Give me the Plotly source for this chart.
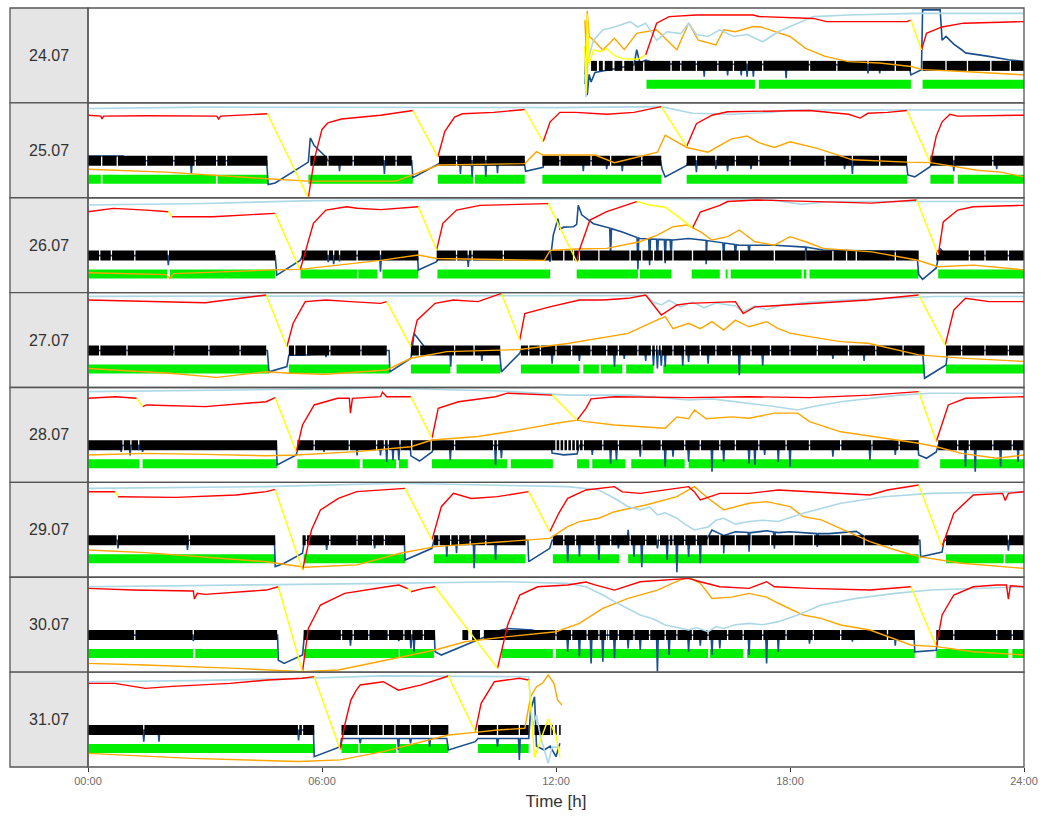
import numpy as np
import plotly.graph_objects as go
from plotly.subplots import make_subplots

# ---------------- data (hours, panel value 0..100) ----------------
days = ["24.07", "25.07", "26.07", "27.07", "28.07", "29.07", "30.07", "31.07"]
tick_vals = [0, 6, 12, 18, 24]
tick_text = ["00:00", "06:00", "12:00", "18:00", "24:00"]
BAR_LEVEL = 39
GREEN_LEVEL = 19.5

# --- 24.07 ---
temp_24 = [(12.74,60),(12.77,10),(12.8,94),(12.85,40),(12.96,56),(13.13,54),(13.3,57),(13.5,50),(13.7,46.6),(14.1,46),(14.3,50.5),(14.58,84),(14.9,90.9),(15.6,92.6),(17.06,92.6),(17.2,91),(18.6,89),(18.94,85.6),(21.0,85.6),(21.1,87.3),(21.37,55.8),(21.5,73.3),(21.6,75),(21.9,80),(22.45,84),(24,85.6)]
cool_24 = [(12.74,14.3),(21.1,21.37)]
lblue_24 = [(12.74,30),(12.77,6),(12.82,45),(12.96,66),(13.2,76.8),(13.5,80),(13.9,85.6),(14.1,80),(14.3,84),(14.58,66),(14.85,75),(15.2,73),(15.4,84),(15.6,72),(15.9,70),(16.2,77),(16.55,70),(16.9,72),(17.3,64.4),(17.7,75),(18.2,84),(18.6,90.9),(19.5,92.6),(21.2,94.3),(24,94.3)]
orange_24 = [(12.74,87),(12.77,60),(12.8,97),(12.85,70),(12.96,66),(13.2,55.8),(13.5,68),(13.75,56),(14.07,73.3),(14.3,75),(14.58,77),(14.85,66),(15.1,56),(15.4,84),(15.65,66),(16.1,61),(16.3,77),(16.6,75),(17.06,80.5),(17.25,80),(17.6,75),(18.0,70),(18.4,57.5),(18.9,49),(19.5,43.5),(20.3,42),(21.1,38.3),(21.4,35),(22.45,33),(24,29.5)]
blue_24 = [(12.74,20),(12.77,60),(12.8,8),(12.85,30),(12.9,22),(13.0,32),(13.5,36),(14.0,40),(14.07,56),(14.15,42),(14.3,45),(14.6,41),(21.05,40),(21.1,29.5),(21.37,35),(21.4,98),(21.85,98),(21.88,77),(21.9,66),(22.0,70),(22.2,62),(22.4,56),(22.5,52.7),(23.1,49),(23.6,45.5),(24,43.5)]
blue_dips_24 = [(15.8,27.6),(16.4,29),(16.75,29),(16.9,27.6),(17.06,27.6),(17.9,26),(20.0,31),(20.3,31)]
black_24 = [(12.9,13.05),(13.1,13.2),(13.25,13.45),(13.5,13.7),(13.75,21.1),(21.4,24.0)]
black_gaps_24 = [14.0,14.25,14.95,15.2,15.6,16.15,16.55,16.9,17.3,18.5,19.2,20.0,20.7,22.0,22.55,23.15,23.65]
green_24 = [(14.32,17.1),(17.2,21.1),(21.4,24.0)]

# --- 25.07 ---
temp_25 = [(0,87),(0.33,86),(0.36,83),(0.4,86),(1.5,86.5),(3.3,86),(3.35,83),(3.4,86),(4.6,88.5),(5.65,0),(5.8,40),(6.0,72),(6.15,79),(6.5,83),(7.5,87),(8.33,92),(8.97,43),(9.15,70),(9.4,85),(9.6,88.5),(10.4,90),(11.2,93),(11.67,59),(11.85,80),(12.1,90),(12.5,90),(13.3,88),(14.0,90),(14.7,96),(15.35,54),(15.6,78),(16.0,87),(16.4,90.7),(18.5,92),(19.5,88),(19.8,84),(20.0,89),(20.5,90),(21.0,92),(21.6,36.6),(21.75,65),(21.9,80),(22.1,88),(22.3,86),(24,87)]
cool_25 = [(4.6,5.65),(8.33,8.97),(11.2,11.67),(14.7,15.35),(21.0,21.6)]
lblue_25 = [(0,94),(3,95.5),(12,95),(14.7,96),(15.5,89),(16.5,88),(17.5,90),(18,92.5),(24,92.5)]
orange_25 = [(0,30),(2,27),(4.6,20),(5.65,17.5),(7.9,17.5),(9.0,34.5),(11.2,36),(11.5,48.6),(11.67,45),(13.0,45),(13.5,37),(14.6,48),(14.8,66),(15.35,53),(15.9,48),(16.5,62),(16.9,65),(17.2,58),(17.6,53),(18.0,59),(18.7,52),(19.6,40),(21.0,37.5),(21.6,37),(22.8,29),(23.4,27),(24,22)]
blue_25 = [(0,44),(0.9,44),(1.0,39),(4.58,39),(4.62,14),(4.8,15.5),(5.3,28),(5.65,37.6),(5.7,63),(5.8,55),(6.1,43),(6.15,39),(8.3,39),(8.33,21),(9.0,36),(9.05,39),(11.18,39),(11.22,28),(11.67,32),(11.7,39),(14.68,39),(14.72,30),(14.8,22),(15.35,34),(15.4,39),(20.98,39),(21.02,24),(21.2,22),(21.6,33),(21.65,39),(24,39)]
blue_dips_25 = [(2.65,25),(6.45,28),(7.6,25),(9.55,25),(9.85,22),(10.2,22),(10.5,26),(12.7,28),(13.3,30),(13.7,28),(15.6,27),(16.1,30),(16.4,28),(17.0,30),(19.4,30),(19.6,25),(22.2,28),(23.3,30)]
black_25 = [(0,4.6),(5.7,8.3),(9.0,11.2),(11.65,14.7),(15.35,21.0),(21.6,24)]
black_gaps_25 = [0.35,0.75,1.5,2.2,2.75,3.3,3.55,6.15,6.8,7.6,7.9,9.45,9.85,10.2,12.1,12.9,13.4,14.2,15.6,16.1,16.6,17.2,18.0,18.9,19.6,20.3,22.2,23.2]
green_25 = [(0,0.33),(0.37,3.28),(3.32,4.6),(5.65,8.33),(8.97,9.88),(9.92,11.2),(11.65,14.7),(15.35,21.0),(21.6,22.2),(22.3,24)]

# --- 26.07 ---
temp_26 = [(0,85.3),(0.65,88.8),(1.5,87),(2.06,85.3),(2.15,80),(3.2,80),(4.8,83.5),(5.44,23.8),(5.78,73),(6.1,87),(6.63,90.5),(6.9,89),(7.5,87.5),(8.47,90.5),(8.94,45),(9.1,73),(9.45,87),(10.05,92),(11.8,93.8),(12.53,32.6),(12.6,45),(12.87,76.5),(13.3,85.3),(14.07,96),(14.4,92.3),(14.8,90),(15.2,78),(15.5,68),(15.7,85),(16.2,92),(16.4,96),(17.15,97.6),(18.4,96),(20.1,94.3),(21.25,97.6),(21.8,39.6),(21.93,74.6),(22.3,87),(22.7,90.5),(24,92)]
cool_26 = [(2.06,2.15),(4.8,5.44),(8.47,8.94),(11.8,12.53),(14.07,15.5),(21.25,21.8)]
lblue_26 = [(0,92.3),(3,94),(5.8,97),(12,98.8),(17.5,98),(18.3,93),(19,96),(24,96)]
orange_26 = [(0,21),(2.0,19),(2.1,15),(2.2,20),(4.8,24),(5.44,24.5),(7.5,34),(8.47,39.6),(8.94,36),(11.7,34),(11.85,44.5),(12.5,46),(13.3,46.6),(14.15,53.6),(14.6,60.7),(15.0,69.5),(15.35,71.3),(15.7,64.2),(16.0,55.5),(16.4,59),(16.7,66),(17.1,53.6),(17.6,50),(18.0,59),(18.4,53.6),(18.85,46.6),(20.1,43),(21.25,34.4),(21.8,27.3),(22.7,29),(24,24)]
blue_26 = [(0,39),(4.8,39),(4.84,18.4),(5.44,34),(5.5,39),(8.45,39),(8.47,23.8),(8.94,32.6),(9.0,39),(11.8,39),(11.85,32.6),(11.93,60.7),(12.05,78),(12.1,67),(12.2,69),(12.45,69.5),(12.53,72),(12.57,92),(12.66,82),(12.96,72.6),(13.3,69),(13.7,64),(14.15,57),(15.0,55.5),(15.4,57),(15.85,55),(16.7,50),(17.6,50),(18.4,48),(18.85,45),(21.25,43),(21.3,19),(21.4,14),(21.75,26),(21.85,46.6),(22.0,39),(24,39)]
blue_dips_26 = [(2.06,29),(6.16,32),(6.3,30),(6.45,33),(7.5,22),(8.2,36),(9.75,27),(13.4,38),(14.1,24.5),(14.4,29),(14.6,34),(14.8,31),(14.95,37),(15.85,30),(16.3,35),(16.6,37),(16.95,40),(18.4,34),(22.8,37),(23.4,37)]
black_26 = [(0,4.8),(5.48,8.47),(8.94,21.3),(21.75,24)]
black_gaps_26 = [0.3,0.6,1.2,2.06,6.16,6.3,6.45,6.9,7.5,9.45,9.75,9.85,10.65,11.87,12.2,12.45,12.6,13.1,13.9,14.2,14.5,14.75,15.0,15.5,16.25,16.7,17.6,18.4,19.1,19.45,19.7,20.7,22.6,23.0,23.6]
green_26 = [(0,2.03),(2.1,4.8),(5.45,6.9),(6.93,7.42),(7.55,8.47),(8.96,11.85),(12.53,14.1),(14.15,14.96),(15.48,16.2),(16.35,16.4),(16.48,18.3),(18.35,18.42),(18.5,21.29),(21.8,24)]

# --- 27.07 ---
temp_27 = [(0,92.2),(1.47,90.5),(3.0,89.4),(4.57,97.5),(5.1,43),(5.26,67.7),(5.57,90.5),(6.1,92.2),(6.73,90.5),(7.5,88.7),(7.66,90.5),(8.28,43),(8.44,71),(8.9,88.7),(9.37,92.2),(10.0,90.5),(10.6,99.3),(11.07,50),(11.2,78),(11.84,85),(12.6,92.2),(13.2,92.2),(13.85,94),(14.3,97.5),(14.7,76.4),(15.1,87),(15.4,88.7),(16.6,90.5),(16.8,78),(17.1,85),(18.5,88.7),(20.0,92.2),(21.3,97.5),(21.98,44.7),(22.2,81.7),(22.5,94),(23.1,90.5),(24,90.5)]
cool_27 = [(4.57,5.1),(7.66,8.28),(10.6,11.07),(21.3,21.98)]
lblue_27 = [(0,96),(14.3,97),(14.5,90),(14.7,87),(14.9,92),(15.2,85),(15.5,90),(15.8,84),(16.1,89),(16.6,86),(16.8,80),(17.1,86),(17.4,82),(17.8,87),(18.5,90),(19.3,92),(21.7,96),(24,96)]
orange_27 = [(0,20),(1.5,17),(2.1,15),(3.3,10.7),(4.57,16.6),(5.2,15),(6.1,14),(7.66,18.5),(8.28,30.8),(9.2,37.8),(10.6,39.6),(11.07,40),(12.3,46.4),(13.1,51.9),(13.85,57),(14.5,69.4),(14.8,74.6),(15.0,62),(15.4,67.6),(15.7,62),(16.0,69.4),(16.3,60.6),(16.6,71),(16.95,64),(17.4,69.4),(17.7,62),(18.0,57.3),(18.5,53.6),(19.3,48.3),(20.0,46.6),(21.3,34.4),(22.4,31),(24,27.5)]
blue_27 = [(0,39),(4.6,39),(4.64,16.5),(5.1,22),(5.15,34),(5.5,34),(6.1,36),(6.2,39),(7.72,39),(7.74,16.5),(8.28,30.8),(8.36,57),(8.6,44.7),(8.7,39),(10.55,39),(10.6,16.5),(11.07,36),(11.1,39),(21.4,39),(21.45,9.7),(22.0,23.7),(22.05,39),(24,39)]
blue_dips_27 = [(2.17,34),(6.1,32),(9.3,22),(10.1,28),(11.9,25),(12.6,28),(13.5,22),(13.75,30),(14.3,28),(14.5,23),(14.6,20),(14.7,23),(14.8,22),(15.25,23),(15.4,27),(15.9,25),(16.7,13),(17.3,23),(19.1,30),(19.9,28)]
black_27 = [(0,4.57),(5.15,7.66),(8.28,10.57),(11.1,21.45),(22.0,24)]
black_gaps_27 = [0.3,1.0,2.2,3.1,3.9,5.3,5.6,6.2,7.0,8.5,9.4,9.9,11.3,11.6,12.0,12.4,12.9,13.3,13.6,14.1,14.45,14.55,14.62,14.7,15.0,15.3,15.7,16.1,16.5,17.0,17.5,18.0,18.7,19.5,20.2,20.9,22.4,23.0,23.6]
green_27 = [(0,4.64),(5.15,7.74),(8.28,9.29),(9.45,10.57),(11.1,12.6),(12.7,13.1),(13.15,13.7),(13.8,14.5),(14.75,21.45),(22.0,24)]

# --- 28.07 ---
temp_28 = [(0,88.6),(0.7,90.3),(1.25,88.6),(1.4,79.8),(1.5,81.6),(3.0,79.8),(4.57,85),(4.8,89.3),(5.34,32.4),(5.5,60.5),(5.8,81.6),(6.4,88.6),(6.7,88.6),(6.73,73),(6.78,88.6),(7.5,90.3),(7.55,95),(7.66,90.3),(8.28,90.3),(8.82,46.5),(8.98,78),(9.5,85),(10.45,90.3),(10.75,94),(11.9,92),(12.54,65.6),(12.77,78),(12.9,88),(13.5,90.3),(15.4,89.3),(16.95,90.3),(18.5,89.3),(20.05,92),(21.3,95.6),(21.75,43),(22.06,81.6),(22.5,88.6),(24,90.3)]
cool_28 = [(1.25,1.4),(4.8,5.34),(8.28,8.82),(11.9,12.54),(21.3,21.75)]
lblue_28 = [(0,95.6),(7.66,99.2),(10.6,96.3),(12.3,92),(13.9,92),(15.4,86.8),(16.0,88),(16.95,83.4),(17.6,80),(18.2,76.3),(18.6,80),(19.3,85),(20.8,92),(21.6,94),(24,94)]
orange_28 = [(0,28.8),(1.47,30.6),(3.0,29.5),(4.57,28.1),(5.34,28.8),(6.9,32.4),(8.28,37.6),(8.82,44.7),(10.0,48.3),(11.07,55.3),(12.0,62.3),(12.54,65.6),(12.77,64),(13.5,60.5),(14.8,57),(15.1,69),(15.4,67),(15.55,76.3),(15.85,67),(16.5,69),(16.95,67.6),(17.6,73),(18.2,73),(18.5,64.1),(19.3,53.3),(20.5,46.5),(21.3,41.2),(21.75,37.6),(22.4,30.6),(23.3,25.4),(24,28.8)]
blue_28 = [(0,39),(4.83,39),(4.85,18.3),(5.34,29),(5.4,39),(8.26,39),(8.28,28),(8.5,22.5),(8.82,32),(8.9,39),(11.88,39),(11.9,31),(12.2,29),(12.54,30),(12.6,39),(21.28,39),(21.3,29),(21.5,25.4),(21.75,32),(21.8,39),(24,39)]
blue_dips_28 = [(0.85,32),(1.08,28.5),(1.3,33.7),(1.4,32),(6.05,32),(6.9,28.5),(7.5,28.5),(7.66,21.8),(7.82,23.5),(7.97,23.5),(9.29,23.5),(10.45,18.3),(10.6,25.4),(12.93,29),(13.4,20),(13.55,23.5),(14.16,27),(14.8,16.6),(15.0,27),(15.4,21.8),(16.0,11.3),(16.3,21.8),(16.95,20),(17.1,18.3),(17.35,29),(17.7,21.8),(18.0,16.6),(19.1,27),(20.05,23.5),(20.7,29),(22.5,16.6),(22.75,11.3),(23.4,16.6),(23.85,21.8)]
black_28 = [(0,4.85),(5.37,21.3),(21.8,24)]
black_gaps_28 = [0.9,1.1,1.3,5.8,6.7,7.4,7.6,7.7,8.0,8.3,8.8,9.4,10.4,10.5,12.0,12.1,12.2,12.3,12.4,12.5,12.6,12.7,13.2,13.6,14.2,14.7,15.3,15.7,16.2,16.6,17.2,17.9,18.5,19.3,20.1,20.8,22.3,22.6,23.2,23.7]
green_28 = [(0,1.32),(1.4,4.85),(5.37,6.97),(7.04,7.9),(7.97,8.2),(8.82,10.75),(10.84,11.92),(12.54,12.85),(12.93,13.78),(13.93,15.3),(15.4,21.3),(21.85,24)]

# --- 29.07 ---
temp_29 = [(0,90.2),(0.7,90.2),(0.77,84.9),(0.85,84.9),(2.25,84.2),(3.8,86.7),(4.57,90.2),(4.8,92.6),(5.5,7.6),(5.73,49.8),(5.96,70.9),(6.42,83.2),(6.89,90.2),(8.13,93.7),(8.82,39.3),(9.06,74.4),(9.37,88.4),(9.83,83),(10.5,85),(11.3,90.2),(11.84,48),(12.07,67.4),(12.3,83.2),(12.77,92),(13.5,95.5),(13.7,90),(14.16,88.4),(14.8,92),(15.4,95.5),(15.55,90),(15.7,81.4),(16.2,88.4),(16.95,88.4),(17.7,92),(18.5,90.2),(19.3,88.4),(20.05,86.7),(20.5,92),(21.3,97.2),(21.9,32.3),(22.2,67.4),(22.7,86.7),(23.45,88.4),(23.52,81),(23.6,88.4),(24,90.2)]
cool_29 = [(0.7,0.77),(4.8,5.5),(8.13,8.82),(11.3,11.84),(21.3,21.9)]
lblue_29 = [(0,93.7),(4.57,95.5),(8.0,99),(12.3,95.5),(13.1,92),(13.5,83.2),(13.85,74.4),(14.16,71),(14.4,74),(14.6,65.7),(14.8,68),(15.1,62.2),(15.3,56),(15.55,49.8),(15.9,53),(16.1,60),(16.3,62.2),(16.6,56),(16.95,58.7),(17.3,60),(17.7,58.7),(18.34,67.4),(19.3,78),(20.4,84.9),(21.6,88.4),(24,90.2)]
orange_29 = [(0,28.7),(1.47,25.9),(4.57,16.4),(5.57,10.5),(6.9,13),(8.0,25.3),(8.9,32.3),(10.76,37.6),(11.84,41),(12.3,53.3),(12.6,58.6),(13.1,62.2),(13.5,69.1),(14.3,76.2),(15.1,84.9),(15.4,92),(15.55,95.5),(15.9,83.2),(16.3,71),(16.95,78),(17.4,79.7),(18.0,74.5),(18.34,63.9),(18.8,60.5),(19.4,49.8),(20.05,37.6),(20.7,28.7),(21.3,21.7),(22.4,14.7),(24,9.4)]
blue_29 = [(0,39),(4.78,39),(4.8,11.2),(5.03,14.7),(5.5,25.3),(5.55,39),(8.11,39),(8.13,18.2),(8.82,30.5),(8.87,39),(11.28,39),(11.3,16.4),(11.84,30.5),(11.9,39),(15.85,39),(16.0,49.8),(16.3,44),(16.6,48),(17.0,47),(17.4,49),(17.7,47),(18.0,48),(18.5,46),(19.0,46),(19.4,47),(19.7,48.3),(20.05,39),(21.33,39),(21.35,21.7),(21.9,26.5),(21.95,39),(24,39)]
blue_dips_29 = [(0.77,30.5),(2.55,28.8),(6.12,28.8),(7.35,30.5),(9.2,21.7),(9.45,25.3),(9.9,9.4),(10.45,18.2),(12.3,16.4),(12.6,21.7),(13.1,18.2),(13.6,30.5),(13.85,50),(14.0,21.7),(14.2,10.5),(14.6,30.5),(14.85,18.2),(15.1,5.3),(15.4,21.7),(15.7,14.7),(16.3,25),(16.95,27),(17.6,30),(18.7,32),(20.6,33),(23.6,28)]
black_29 = [(0,4.8),(5.5,8.13),(8.87,11.22),(11.92,21.3),(22.0,24)]
black_gaps_29 = [0.75,2.6,5.6,6.2,6.9,7.3,7.6,9.0,9.3,9.5,9.8,10.2,12.2,12.5,13.0,13.4,13.9,14.3,14.6,14.65,14.9,15.0,15.3,15.6,15.9,16.2,16.6,17.0,17.5,18.1,18.6,19.3,19.9,23.6]
green_29 = [(0,4.8),(5.53,8.13),(8.87,11.22),(11.92,13.62),(13.85,21.3),(22.0,23.48),(23.52,24)]

# --- 30.07 ---
temp_30 = [(0,88.3),(1.16,86.5),(2.7,85.5),(2.73,77),(2.8,83),(3.0,82),(4.57,86.5),(4.88,90),(5.5,0.5),(5.65,46),(5.96,70.7),(6.58,83),(7.66,90),(7.97,91.8),(8.2,88),(8.28,84.7),(8.6,88.3),(8.9,90),(10.5,3.9),(10.76,49.7),(11.07,81.3),(11.53,90),(12.3,91.8),(12.77,95),(13.0,92),(13.5,86.5),(14.16,95.3),(14.8,97),(15.4,98.8),(15.7,95.3),(16.2,90),(16.95,88.3),(17.4,95.3),(17.6,90),(18.5,88.3),(20.05,86.5),(21.1,90),(21.75,26.9),(21.9,60.2),(22.2,81.3),(22.7,90),(23.3,91.8),(23.55,91.8),(23.6,77),(23.65,91),(24,90)]
cool_30 = [(4.88,5.5),(8.2,8.28),(8.9,10.5),(21.1,21.75)]
lblue_30 = [(0,90),(4.57,91.8),(7.66,93.5),(10.76,95.3),(12.3,93.5),(12.77,90),(13.2,81.3),(13.5,74.3),(13.8,68),(14.16,60.2),(14.5,56),(14.8,49.7),(15.1,47),(15.4,44.4),(15.6,47),(15.9,42.6),(16.1,48),(16.3,46),(16.6,50),(16.95,51.4),(17.3,50),(17.7,53.2),(18.2,60.2),(18.8,70.7),(19.7,77.7),(20.7,83),(21.6,86.5),(22.7,88.3),(24,90)]
orange_30 = [(0,9.2),(1.47,7.5),(3.8,4),(5.5,0.5),(6.42,2.2),(7.66,12.7),(8.9,23.3),(9.67,32),(10.76,37.4),(12.0,42.6),(12.6,51.4),(13.2,67.2),(13.85,77.7),(14.6,86.5),(15.17,97),(15.4,100),(15.7,93.5),(16.0,77.7),(16.5,79),(16.95,83),(17.4,79),(17.7,72.6),(18.34,60.2),(18.8,56.7),(19.3,49.7),(20.05,44.4),(21.1,28.6),(21.75,26.9),(22.7,21.5),(24,18)]
blue_30 = [(0,39),(4.86,39),(4.88,12.6),(5.03,9.2),(5.5,18),(5.55,39),(8.88,39),(8.9,21.4),(9.06,18),(10.6,44.4),(10.76,46),(11.4,44.4),(11.84,37.4),(11.9,39),(21.18,39),(21.2,21.4),(21.75,23),(21.8,39),(24,39)]
blue_dips_30 = [(1.3,34.5),(2.7,32.8),(6.73,28),(7.97,32.8),(8.28,25),(8.36,21.4),(12.3,21.4),(12.6,16.4),(12.9,9.2),(13.2,11),(13.5,14.6),(13.85,25),(14.16,23.3),(14.6,0.5),(14.9,18),(15.4,21.4),(15.7,28),(16.0,18),(16.2,25),(16.95,18),(17.4,9.2),(17.7,21.4),(18.5,30),(19.6,32),(20.7,28),(22.4,34.5),(23.5,35)]
black_30 = [(0,4.85),(5.53,8.9),(9.6,9.75),(9.85,10.05),(10.15,21.2),(21.75,24)]
black_gaps_30 = [1.2,2.7,6.5,6.8,7.2,7.7,8.1,8.3,8.6,12.0,12.4,12.8,13.1,13.3,13.35,13.6,14.0,14.4,14.8,15.1,15.5,15.9,16.4,16.8,17.3,17.9,18.6,19.3,20.5,22.2,23.3,23.7]
green_30 = [(0,2.7),(2.75,4.85),(5.53,7.97),(8.0,8.87),(10.6,11.92),(12.0,15.9),(15.95,16.8),(16.9,21.2),(21.75,23.6),(23.7,24)]

# --- 31.07 ---
temp_31 = [(0,88.2),(0.69,88.2),(1.47,82.9),(2.16,85),(3.64,88.2),(4.62,91.7),(5.5,93.5),(5.8,95.2),(6.47,18),(6.59,45.6),(6.74,70.5),(6.88,81),(6.98,86.5),(7.57,89.9),(7.96,81),(8.55,86.5),(9.24,95.9),(9.93,37.3),(10.08,67.1),(10.42,89.9),(11.06,93.5),(11.3,91.7),(11.45,10.2),(11.6,28),(11.8,50.5),(12.0,33),(12.1,10.2)]
cool_31 = [(5.8,6.47),(9.24,9.93),(11.3,12.1)]
lblue_31 = [(0,89.9),(2.65,91),(5.6,93.5),(7.57,96),(11.3,95.2),(11.4,42.7),(11.5,55),(11.6,32.3),(11.8,3.9),(11.9,21),(12.1,21)]
orange_31 = [(0,14.4),(2.65,9.1),(5.4,5.8),(6.47,7.5),(7.57,16.2),(8.55,26.7),(9.24,33.7),(9.93,36.5),(10.5,39),(11.2,40.8),(11.35,74.2),(11.5,84.7),(11.65,88.2),(11.8,96.9),(11.95,88),(12.04,70.7),(12.15,65.4)]
blue_31 = [(0,39),(5.78,39),(5.8,10.9),(6.47,21.4),(6.5,30),(9.2,30),(9.24,17.9),(9.93,26.7),(10.0,30),(11.3,30),(11.35,60),(11.45,74),(11.5,22),(11.7,17.9),(11.85,22),(12.0,10.9),(12.1,25)]
blue_dips_31 = [(1.43,26.7),(1.82,26.7),(5.4,28),(6.98,25),(7.96,17.9),(8.27,25),(8.76,21.4),(10.5,21.4),(11.06,7.4)]
black_31 = [(0,5.8),(6.5,9.24),(10.0,11.3),(11.45,11.85),(11.88,11.92),(11.98,12.02),(12.08,12.12)]
black_gaps_31 = [1.43,5.4,5.5,6.93,7.57,7.87,8.27,8.76,10.5,11.06]
green_31 = [(0,5.8),(6.5,6.93),(6.96,7.9),(7.96,9.24),(10.0,11.3)]

# ---------------- table built from the lists ----------------
table = {
    "24.07": (temp_24, cool_24, lblue_24, orange_24, blue_24, blue_dips_24, black_24, black_gaps_24, green_24),
    "25.07": (temp_25, cool_25, lblue_25, orange_25, blue_25, blue_dips_25, black_25, black_gaps_25, green_25),
    "26.07": (temp_26, cool_26, lblue_26, orange_26, blue_26, blue_dips_26, black_26, black_gaps_26, green_26),
    "27.07": (temp_27, cool_27, lblue_27, orange_27, blue_27, blue_dips_27, black_27, black_gaps_27, green_27),
    "28.07": (temp_28, cool_28, lblue_28, orange_28, blue_28, blue_dips_28, black_28, black_gaps_28, green_28),
    "29.07": (temp_29, cool_29, lblue_29, orange_29, blue_29, blue_dips_29, black_29, black_gaps_29, green_29),
    "30.07": (temp_30, cool_30, lblue_30, orange_30, blue_30, blue_dips_30, black_30, black_gaps_30, green_30),
    "31.07": (temp_31, cool_31, lblue_31, orange_31, blue_31, blue_dips_31, black_31, black_gaps_31, green_31),
}

C_RED = "#FF0000"
C_YEL = "#FFFF00"
C_ORA = "#FFA500"
C_LBL = "#ADD8E6"
C_BLU = "#1B4F8C"
C_BLK = "#000000"
C_GRN = "#00EE00"
FONT = "Liberation Sans, Arial, sans-serif"


def xy(pts):
    return [p[0] for p in pts], [p[1] for p in pts]


def split_temp(path, cool):
    """Split the temperature path into red (heating) and yellow (cooling) runs."""
    runs = {"r": ([], []), "y": ([], [])}
    cur = None
    for i in range(len(path) - 1):
        (t0, v0), (t1, v1) = path[i], path[i + 1]
        mid = 0.5 * (t0 + t1)
        key = "y" if any(a <= mid <= b for a, b in cool) else "r"
        xs, ys = runs[key]
        if key != cur:
            if xs:
                xs.append(None); ys.append(None)
            xs.append(t0); ys.append(v0)
            cur = key
        xs.append(t1); ys.append(v1)
    return runs["r"], runs["y"]


def with_dips(path, dips, w=0.022):
    ts = np.array([p[0] for p in path], dtype=float)
    vs = np.array([p[1] for p in path], dtype=float)
    pts = list(path)
    for t, v in dips:
        pts.append((t - w, float(np.interp(t - w, ts, vs))))
        pts.append((t, v))
        pts.append((t + w, float(np.interp(t + w, ts, vs))))
    pts.sort(key=lambda p: p[0])
    return pts


def segments(intervals, gaps, level, hw=0.017):
    xs, ys = [], []
    for a, b in intervals:
        cuts = sorted(g for g in gaps if a < g < b)
        start = a
        for g in cuts:
            if g - hw > start:
                xs += [start, g - hw, None]; ys += [level, level, None]
            start = g + hw
        if b > start:
            xs += [start, b, None]; ys += [level, level, None]
    return xs, ys


n = len(days)
fig = make_subplots(rows=n, cols=1, shared_xaxes=True, vertical_spacing=0)

for r, day in enumerate(days, start=1):
    temp, cool, lblue, orange, blue, dips, black, bgaps, green = table[day]
    gx, gy = segments(green, [], GREEN_LEVEL)
    fig.add_trace(go.Scatter(x=gx, y=gy, mode="lines", line=dict(color=C_GRN, width=9), hoverinfo="skip"), row=r, col=1)
    bx, by = xy(with_dips(blue, dips))
    fig.add_trace(go.Scatter(x=bx, y=by, mode="lines", line=dict(color=C_BLU, width=1.6), hoverinfo="skip"), row=r, col=1)
    kx, ky = segments(black, bgaps, BAR_LEVEL)
    fig.add_trace(go.Scatter(x=kx, y=ky, mode="lines", line=dict(color=C_BLK, width=10), hoverinfo="skip"), row=r, col=1)
    ox, oy = xy(orange)
    fig.add_trace(go.Scatter(x=ox, y=oy, mode="lines", line=dict(color=C_ORA, width=1.4), hoverinfo="skip"), row=r, col=1)
    lx, ly = xy(lblue)
    fig.add_trace(go.Scatter(x=lx, y=ly, mode="lines", line=dict(color=C_LBL, width=1.6), hoverinfo="skip"), row=r, col=1)
    (rx, ry), (yx, yy) = split_temp(temp, cool)
    fig.add_trace(go.Scatter(x=rx, y=ry, mode="lines", line=dict(color=C_RED, width=1.4), hoverinfo="skip"), row=r, col=1)
    fig.add_trace(go.Scatter(x=yx, y=yy, mode="lines", line=dict(color=C_YEL, width=1.4), hoverinfo="skip"), row=r, col=1)

W, H = 1049, 830
ML, MR, MT, MB = 10, 25, 8, 63
strip_frac = 78 / (W - ML - MR)

fig.update_xaxes(domain=[strip_frac, 1], range=[0, 24], showgrid=False, zeroline=False,
                 showline=False, tickvals=tick_vals, ticktext=tick_text, automargin=False)
fig.update_yaxes(range=[0, 100], showgrid=False, zeroline=False, showline=False,
                 showticklabels=False, ticks="", automargin=False)
fig.update_xaxes(ticks="outside", ticklen=4, tickwidth=1, tickcolor="#333333",
                 tickfont=dict(family=FONT, size=11, color="#6b6b6b"),
                 title=dict(text="Time [h]", font=dict(family=FONT, size=17, color="#333333"), standoff=8),
                 row=n, col=1)

shapes = []
annotations = []
for i, day in enumerate(days):
    y1 = 1 - i / n
    y0 = 1 - (i + 1) / n
    shapes.append(dict(type="rect", xref="paper", yref="paper", x0=0, x1=strip_frac, y0=y0, y1=y1,
                       fillcolor="#E5E5E5", line=dict(color="#555555", width=1.3), layer="below"))
    shapes.append(dict(type="rect", xref="paper", yref="paper", x0=strip_frac, x1=1, y0=y0, y1=y1,
                       fillcolor="rgba(0,0,0,0)", line=dict(color="#555555", width=1.3), layer="above"))
    annotations.append(dict(text=day, xref="paper", yref="paper", x=strip_frac / 2, y=(y0 + y1) / 2,
                            showarrow=False, xanchor="center", yanchor="middle",
                            font=dict(family=FONT, size=16, color="#333333")))

fig.update_layout(template="none", width=W, height=H, margin=dict(l=ML, r=MR, t=MT, b=MB, autoexpand=False),
                  paper_bgcolor="white", plot_bgcolor="white", showlegend=False,
                  shapes=shapes, annotations=annotations, hovermode=False)

fig.write_html("out.html", config={"displayModeBar": False},
               post_script="document.body.style.margin='0px';")
